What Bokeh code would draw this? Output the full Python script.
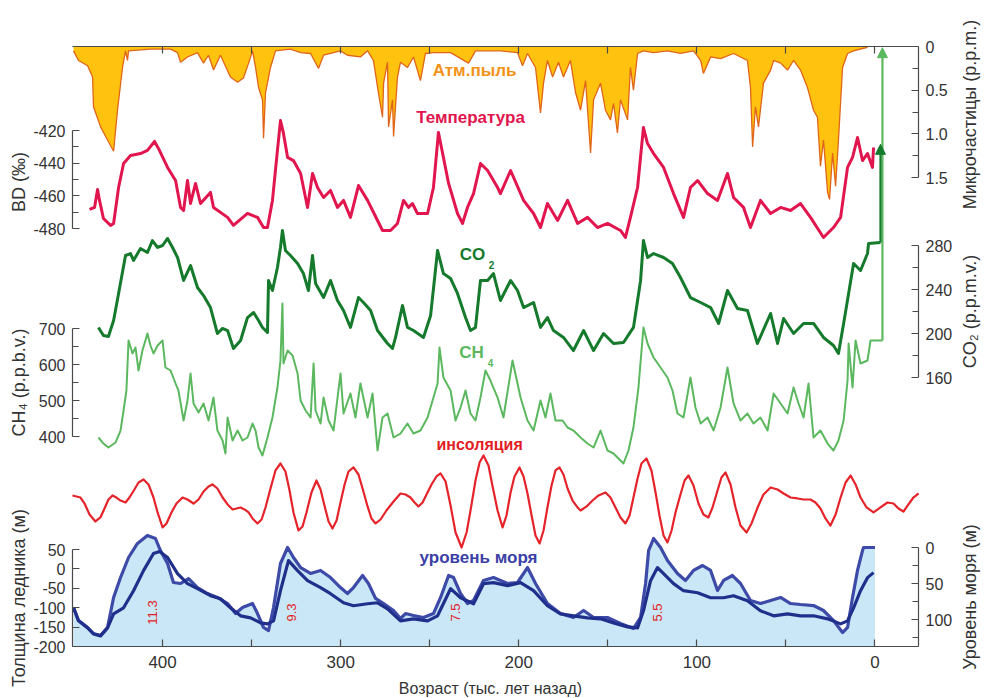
import math
from bokeh.plotting import figure
from bokeh.models import (LinearAxis, FixedTicker, Range1d, Label, Arrow,
                          NormalHead, ColumnDataSource)
from bokeh.embed import file_html
from bokeh.resources import INLINE

# ---------------- data (age in thousand years before present) ----------------
dust_age = [450.0, 447.2, 442.1, 439.3, 438.8, 434.8, 430.9, 427.5, 425.3, 422.5,
            420.8, 419.7, 419.1, 406.8, 395.5, 391.6, 389.9, 386.0, 380.4, 377.0,
            374.2, 371.4, 367.5, 361.9, 357.9, 354.6, 351.7, 349.5, 347.8, 346.1,
            343.9, 343.3, 342.2, 339.4, 336.6, 328.2, 322.5, 316.9, 312.4, 309.6,
            304.0, 300.1, 296.2, 288.9, 284.9, 281.6, 278.8, 276.5, 275.9, 273.7,
            273.1, 270.9, 270.3, 268.1, 266.4, 262.5, 259.1, 255.2, 252.4, 247.9,
            238.3, 228.2, 224.3, 210.3, 200.7, 197.9, 195.1, 190.6, 187.8, 186.1,
            183.9, 181.0, 177.7, 174.9, 171.0, 168.1, 165.3, 162.5, 159.7, 158.0,
            154.1, 151.3, 148.5, 146.8, 144.6, 142.9, 138.9, 137.3, 135.6, 133.3,
            130.0, 124.3, 116.5, 109.2, 101.9, 97.9, 96.3, 92.3, 86.7, 79.4,
            71.6, 69.9, 68.7, 67.1, 65.4, 62.6, 58.6, 56.9, 53.0, 49.1,
            45.7, 41.8, 37.9, 34.5, 32.3, 30.6, 28.9, 26.6, 25.5, 23.8,
            22.1, 20.5, 18.2, 15.4, 12.0, 6.4, 4.2]
dust_ppm = [0.05, 0.16, 0.22, 0.35, 0.69, 0.92, 1.07, 1.20, 0.73, 0.24,
            0.05, 0.16, 0.05, 0.03, 0.03, 0.07, 0.18, 0.12, 0.07, 0.19,
            0.10, 0.27, 0.10, 0.35, 0.41, 0.36, 0.19, 0.05, 0.24, 0.47,
            0.61, 1.05, 0.53, 0.24, 0.05, 0.03, 0.07, 0.08, 0.25, 0.10,
            0.07, 0.05, 0.10, 0.12, 0.05, 0.16, 0.53, 0.81, 0.42, 0.18,
            0.92, 0.61, 1.03, 0.35, 0.18, 0.24, 0.12, 0.39, 0.08, 0.07,
            0.07, 0.19, 0.05, 0.05, 0.07, 0.22, 0.08, 0.24, 0.76, 0.42,
            0.16, 0.35, 0.18, 0.35, 0.16, 0.53, 0.73, 0.39, 1.22, 0.61,
            0.42, 0.73, 0.84, 0.65, 0.99, 0.61, 0.84, 0.24, 0.50, 0.08,
            0.05, 0.07, 0.05, 0.08, 0.05, 0.16, 0.31, 0.12, 0.14, 0.08,
            0.16, 0.47, 1.15, 0.69, 0.92, 0.42, 0.27, 0.16, 0.19, 0.27,
            0.16, 0.27, 0.47, 0.73, 0.81, 1.37, 1.07, 1.67, 1.75, 1.22,
            1.60, 1.07, 0.24, 0.08, 0.05, 0.02, 0.01]

temp_age = [441.0, 438.2, 436.5, 435.4, 433.2, 429.2, 427.5, 424.7, 421.9, 418.0,
            412.4, 408.5, 404.5, 402.3, 397.2, 392.7, 389.9, 388.2, 386.0, 384.3,
            381.5, 378.7, 373.1, 371.4, 363.5, 360.2, 352.3, 346.7, 343.3, 341.1,
            338.3, 335.5, 333.8, 332.1, 329.8, 326.5, 322.5, 318.6, 315.8, 313.0,
            309.6, 305.7, 301.8, 298.4, 294.5, 290.0, 284.9, 279.3, 276.5, 272.0,
            268.1, 264.7, 261.9, 259.7, 256.9, 251.2, 247.9, 245.1, 242.3, 239.4,
            234.4, 231.6, 228.8, 225.4, 221.5, 217.5, 211.9, 210.3, 204.6, 197.3,
            191.7, 187.8, 183.9, 178.2, 172.6, 167.0, 161.4, 155.8, 150.2, 142.9,
            140.1, 137.3, 133.3, 130.0, 127.7, 124.3, 118.7, 113.1, 107.5, 103.6,
            99.6, 94.0, 88.4, 82.8, 79.4, 73.8, 69.9, 64.3, 58.6, 53.0,
            47.4, 41.8, 36.2, 28.9, 23.3, 19.3, 15.4, 12.6, 9.8, 7.0,
            4.2, 1.4, 0.8]
temp_bd = [-468.3, -467.1, -456.1, -462.8, -473.9, -478.1, -476.9, -454.9, -440.2, -435.3,
           -434.1, -432.2, -426.7, -431.0, -442.6, -450.6, -467.1, -469.0, -450.6, -464.7,
           -452.4, -464.7, -457.9, -467.1, -473.2, -478.1, -470.8, -473.2, -479.4, -479.4,
           -462.8, -432.2, -413.9, -421.8, -436.5, -438.4, -446.3, -467.1, -446.3, -454.9,
           -461.0, -456.7, -467.1, -462.8, -473.2, -453.7, -462.8, -475.1, -481.2, -481.2,
           -476.9, -462.8, -467.1, -464.7, -470.8, -470.8, -454.9, -421.2, -436.5, -452.4,
           -470.8, -476.9, -467.1, -458.6, -440.2, -444.5, -454.9, -458.6, -444.5, -462.8,
           -470.8, -479.4, -464.7, -475.1, -462.8, -476.9, -473.2, -479.4, -476.9, -481.2,
           -485.5, -473.2, -454.9, -418.2, -428.0, -434.1, -442.6, -458.6, -473.2, -454.9,
           -450.6, -458.6, -462.8, -446.3, -461.0, -467.1, -479.4, -462.8, -470.8, -467.1,
           -469.0, -464.7, -473.2, -485.5, -479.4, -473.2, -442.6, -436.5, -424.3, -438.4,
           -434.1, -442.6, -430.4]

co2_age = [436.0, 433.2, 430.4, 427.5, 424.7, 420.8, 418.0, 416.3, 412.4, 408.5,
           405.7, 402.8, 400.0, 397.2, 394.4, 391.6, 388.2, 384.3, 380.4, 377.0,
           373.1, 369.2, 366.3, 363.5, 360.2, 356.2, 352.3, 348.9, 346.1, 343.9,
           341.1, 340.5, 338.3, 335.5, 333.8, 332.7, 331.0, 328.2, 324.2, 320.9,
           318.1, 315.8, 314.1, 309.6, 305.7, 301.8, 298.4, 294.5, 290.0, 287.2,
           283.2, 279.3, 273.7, 270.9, 269.2, 265.3, 262.5, 259.1, 253.5, 249.5,
           245.6, 242.3, 238.3, 234.4, 229.9, 227.1, 224.3, 221.5, 217.5, 214.2,
           210.3, 204.6, 200.7, 197.3, 191.7, 187.8, 183.9, 180.5, 174.9, 169.3,
           163.6, 158.0, 152.4, 146.8, 141.2, 135.6, 131.6, 130.0, 127.7, 124.3,
           118.7, 113.7, 109.2, 103.6, 97.9, 92.3, 87.8, 82.8, 77.2, 71.6,
           66.0, 58.6, 54.7, 51.3, 45.7, 40.1, 34.5, 28.9, 23.3, 20.5,
           17.6, 14.8, 12.0, 8.1, 4.2, 3.6, -3.1]
co2_ppmv = [205.5, 198.2, 197.3, 211.8, 236.4, 270.9, 272.7, 266.4, 277.3, 273.6,
            284.5, 278.2, 280.0, 286.4, 278.2, 269.1, 248.2, 261.8, 241.8, 234.5,
            223.6, 200.0, 204.6, 202.7, 186.4, 193.6, 214.5, 219.1, 211.8, 205.5,
            200.9, 248.2, 239.1, 260.0, 278.2, 293.6, 275.5, 270.9, 263.6, 254.5,
            239.1, 270.9, 245.5, 232.7, 248.2, 230.0, 220.9, 205.5, 232.7, 228.2,
            220.9, 202.7, 190.9, 186.4, 196.4, 225.5, 205.5, 202.7, 196.4, 216.4,
            275.5, 254.5, 250.0, 236.4, 214.5, 202.7, 205.5, 248.2, 248.2, 254.5,
            230.0, 248.2, 239.1, 223.6, 228.2, 205.5, 214.5, 202.7, 196.4, 184.5,
            202.7, 184.5, 200.0, 190.9, 191.8, 205.5, 248.2, 284.5, 269.1, 272.7,
            269.1, 263.6, 250.9, 232.7, 228.2, 223.6, 209.1, 239.1, 222.7, 220.9,
            190.9, 218.2, 190.9, 213.6, 200.0, 209.1, 209.1, 196.4, 189.1, 181.8,
            209.1, 236.4, 263.6, 257.3, 272.7, 281.8, 282.7]
co2_recent = 372.0

ch4_age = [436.0, 433.2, 430.4, 426.4, 423.6, 421.9, 420.3, 419.1, 416.9, 415.2,
           413.5, 411.3, 408.5, 406.8, 405.1, 402.8, 400.0, 398.4, 395.5, 392.7,
           391.1, 388.2, 386.0, 384.3, 382.6, 379.8, 377.0, 374.2, 371.4, 369.2,
           366.3, 364.7, 363.5, 360.7, 357.9, 355.1, 352.3, 349.5, 347.8, 346.1,
           343.9, 341.1, 338.3, 335.5, 333.8, 332.7, 332.1, 329.8, 327.0, 324.2,
           322.5, 319.7, 316.9, 315.2, 314.1, 311.3, 309.6, 306.8, 304.0, 300.1,
           298.4, 294.5, 291.7, 288.9, 284.9, 282.1, 279.3, 276.5, 273.7, 270.3,
           266.4, 262.5, 259.1, 255.2, 251.2, 248.4, 245.6, 244.5, 242.3, 238.3,
           235.5, 232.7, 229.9, 227.1, 224.3, 221.5, 218.7, 215.9, 211.9, 208.6,
           203.5, 199.0, 195.1, 191.7, 187.8, 185.0, 182.2, 179.4, 175.4, 172.6,
           169.3, 165.3, 161.4, 158.0, 154.1, 150.2, 146.8, 142.9, 141.2, 138.4,
           135.6, 132.8, 130.0, 127.7, 124.3, 120.4, 116.5, 113.7, 110.9, 107.5,
           103.6, 100.8, 97.9, 94.0, 90.6, 86.7, 82.8, 79.4, 75.5, 71.6,
           68.2, 64.3, 60.3, 56.9, 53.0, 49.1, 45.7, 42.9, 40.1, 37.3,
           34.5, 30.6, 26.6, 23.3, 20.5, 17.6, 15.4, 14.8, 12.6, 10.9,
           8.1, 4.2, 2.5, -4.2]
ch4_ppbv = [397.2, 380.5, 369.4, 383.3, 416.6, 472.2, 527.8, 666.7, 630.6, 647.2,
            583.3, 638.9, 686.1, 652.8, 630.6, 652.8, 666.7, 591.7, 583.3, 547.2,
            527.8, 444.4, 500.0, 575.0, 491.7, 466.6, 491.7, 444.4, 508.3, 416.6,
            388.9, 352.8, 452.8, 388.9, 416.6, 388.9, 397.2, 436.1, 416.6, 369.4,
            347.2, 397.2, 452.8, 536.1, 611.1, 769.5, 602.8, 638.9, 625.0, 575.0,
            500.0, 472.2, 452.8, 602.8, 472.2, 436.1, 508.3, 444.4, 416.6, 575.0,
            463.9, 519.4, 452.8, 547.2, 452.8, 519.4, 361.1, 452.8, 463.9, 397.2,
            408.3, 436.1, 408.3, 416.6, 452.8, 500.0, 547.2, 647.2, 563.9, 527.8,
            444.4, 480.5, 527.8, 463.9, 444.4, 508.3, 583.3, 555.5, 508.3, 452.8,
            611.1, 508.3, 444.4, 416.6, 500.0, 452.8, 519.4, 444.4, 444.4, 425.0,
            416.6, 397.2, 380.5, 369.4, 416.6, 361.1, 352.8, 333.3, 325.0, 361.1,
            425.0, 536.1, 702.8, 658.3, 619.4, 591.7, 563.9, 527.8, 463.9, 452.8,
            563.9, 480.5, 436.1, 452.8, 416.6, 480.5, 591.7, 491.7, 444.4, 463.9,
            436.1, 452.8, 416.6, 519.4, 491.7, 463.9, 536.1, 491.7, 452.8, 547.2,
            397.2, 416.6, 380.5, 361.1, 388.9, 444.4, 555.5, 658.3, 536.1, 666.7,
            602.8, 611.1, 666.7, 666.7]
ch4_recent = 1480.0

insol_age = [450.6, 446.1, 443.8, 441.0, 437.7, 434.9, 432.6, 430.4, 428.1, 425.9,
             423.6, 420.8, 418.6, 415.8, 413.5, 410.7, 407.9, 405.1, 402.8, 400.0,
             397.8, 395.0, 392.2, 388.8, 386.0, 382.6, 379.8, 377.0, 374.2, 372.0,
             369.2, 366.3, 363.5, 360.7, 358.5, 356.2, 354.0, 351.7, 349.5, 346.7,
             344.4, 342.2, 339.4, 336.6, 333.8, 331.0, 328.7, 326.5, 323.7, 321.4,
             319.2, 316.4, 313.6, 311.3, 309.1, 306.8, 304.6, 302.3, 300.1, 297.8,
             295.6, 292.8, 290.0, 287.7, 284.9, 282.7, 280.4, 277.6, 274.3, 270.3,
             266.4, 263.6, 260.8, 258.5, 256.3, 254.0, 251.8, 249.0, 246.2, 243.9,
             241.1, 238.3, 235.5, 232.1, 229.3, 227.1, 224.3, 222.0, 219.8, 217.0,
             214.7, 211.9, 209.1, 206.9, 204.6, 202.4, 199.6, 197.3, 195.1, 192.8,
             190.6, 188.3, 186.1, 183.9, 181.6, 179.4, 177.1, 174.9, 172.6, 169.8,
             167.0, 165.3, 161.9, 158.6, 155.2, 151.3, 148.5, 145.7, 142.9, 140.1,
             137.8, 135.6, 133.3, 131.1, 128.3, 125.5, 123.2, 121.0, 118.7, 116.5,
             114.2, 112.0, 109.2, 106.9, 104.7, 101.9, 99.1, 96.3, 93.5, 91.2,
             88.4, 86.2, 83.9, 81.1, 78.3, 75.5, 72.1, 69.3, 65.9, 62.6,
             58.6, 54.7, 51.3, 47.4, 43.5, 40.1, 36.2, 33.4, 30.6, 27.8,
             25.0, 22.1, 19.3, 16.5, 13.7, 10.9, 8.1, 4.7, 0.8, -3.1,
             -7.0, -10.4, -13.2, -16.0, -18.8, -21.6, -24.5]
insol_wm2 = [505.8, 503.2, 495.6, 481.7, 472.9, 478.0, 489.3, 500.7, 505.8, 503.2,
             499.4, 496.9, 503.2, 513.3, 522.2, 526.0, 519.7, 503.2, 484.3, 465.3,
             470.4, 484.3, 495.6, 503.2, 500.7, 495.6, 500.7, 510.8, 517.1, 519.7,
             514.6, 503.2, 494.4, 488.1, 489.3, 490.6, 488.1, 484.3, 476.7, 470.4,
             475.4, 490.6, 514.6, 537.4, 546.2, 536.1, 512.1, 484.3, 461.5, 466.6,
             484.3, 509.6, 524.7, 513.3, 493.1, 472.9, 464.0, 474.2, 496.9, 519.7,
             536.1, 541.2, 532.3, 514.6, 491.9, 476.7, 470.4, 475.4, 486.8, 498.2,
             508.3, 507.0, 503.2, 496.9, 491.9, 496.9, 507.0, 519.7, 529.8, 533.6,
             523.5, 493.1, 459.0, 440.0, 459.0, 486.8, 524.7, 547.5, 556.3, 543.7,
             517.1, 486.8, 465.3, 480.5, 509.6, 529.8, 541.2, 529.8, 508.3, 480.5,
             455.2, 445.1, 461.5, 490.6, 518.4, 537.4, 541.2, 532.3, 514.6, 499.4,
             490.6, 486.8, 491.9, 499.4, 505.8, 509.6, 503.2, 490.6, 478.0, 470.4,
             480.5, 503.2, 527.2, 546.2, 552.5, 537.4, 509.6, 480.5, 455.2, 446.4,
             461.5, 484.3, 507.0, 524.7, 531.0, 518.4, 495.6, 481.7, 478.0, 490.6,
             512.1, 528.5, 534.8, 519.7, 490.6, 467.8, 459.0, 470.4, 490.6, 507.0,
             515.9, 513.3, 508.3, 503.2, 502.0, 500.7, 500.7, 496.9, 489.3, 476.7,
             467.8, 481.7, 503.2, 522.2, 531.0, 519.7, 503.2, 490.6, 484.3, 490.6,
             496.9, 495.6, 489.3, 485.5, 494.4, 503.2, 508.3]

sea_age = [450.0, 447.2, 442.1, 438.8, 434.8, 430.9, 427.5, 423.6, 419.1, 414.1,
           408.5, 404.0, 401.2, 397.2, 393.9, 389.9, 385.4, 380.4, 374.8, 369.2,
           363.5, 359.0, 355.1, 349.5, 346.7, 343.3, 340.5, 337.7, 333.8, 329.8,
           326.5, 322.5, 316.9, 311.3, 305.7, 300.1, 296.2, 292.8, 287.7, 284.4,
           280.4, 275.9, 270.3, 266.4, 263.6, 259.1, 253.5, 247.9, 243.9, 239.4,
           236.6, 232.7, 228.8, 225.4, 219.8, 214.2, 206.3, 200.7, 195.1, 190.6,
           183.9, 176.6, 169.3, 163.6, 158.0, 150.2, 142.9, 135.6, 131.6, 128.8,
           127.1, 124.3, 120.4, 116.5, 110.9, 106.4, 101.9, 96.8, 92.3, 88.4,
           85.0, 80.0, 75.5, 69.9, 64.3, 58.6, 53.0, 47.4, 41.8, 34.5,
           28.9, 23.3, 18.2, 15.4, 12.6, 9.8, 7.0, 6.4, 0.0]
sea_m = [83.3, 101.4, 111.1, 119.5, 122.2, 111.1, 69.4, 41.7, 13.9, -5.6,
         -16.7, -12.5, 4.2, 22.2, 48.6, 50.0, 43.1, 55.6, 63.9, 69.4,
         77.8, 91.7, 83.3, 77.8, 91.7, 111.1, 115.3, 83.3, 22.2, 0.0,
         13.9, 27.8, 36.1, 31.9, 41.7, 55.6, 63.9, 55.6, 38.9, 50.0,
         70.8, 77.8, 87.5, 98.6, 91.7, 94.4, 97.2, 91.7, 69.4, 38.9,
         41.7, 63.9, 77.8, 73.6, 45.8, 41.7, 50.0, 48.6, 27.8, 50.0,
         77.8, 91.7, 97.2, 87.5, 97.2, 97.2, 105.6, 112.5, 97.2, 50.0,
         4.2, -12.5, 0.0, 18.1, 36.1, 45.8, 31.9, 25.0, 31.9, 59.7,
         45.8, 38.9, 50.0, 73.6, 77.8, 73.6, 69.4, 77.8, 79.2, 80.6,
         87.5, 101.4, 118.1, 111.1, 69.4, 31.9, 4.2, 0.0, 0.0]

ice_age = [450.0, 447.2, 442.1, 438.8, 434.8, 430.9, 427.5, 421.9, 416.3, 410.7,
           405.1, 401.7, 397.2, 391.6, 386.0, 380.4, 373.1, 367.5, 361.9, 356.2,
           350.6, 345.0, 341.1, 337.7, 333.8, 329.3, 324.2, 318.6, 311.3, 305.7,
           298.4, 292.8, 284.9, 279.3, 273.7, 266.4, 259.1, 251.2, 245.6, 238.3,
           232.7, 225.4, 219.8, 214.2, 206.3, 199.0, 191.7, 183.9, 176.6, 169.3,
           161.4, 154.1, 146.8, 138.9, 133.3, 130.0, 126.0, 122.1, 118.7, 113.1,
           107.5, 99.6, 92.3, 85.0, 79.4, 71.6, 64.3, 56.9, 49.1, 41.8,
           34.5, 26.6, 19.3, 15.4, 12.0, 8.1, 4.2, 0.8]
ice_m = [-100.2, -133.9, -152.0, -167.6, -172.7, -152.0, -115.8, -100.2, -56.2, -4.4,
         39.6, 44.8, 29.3, -12.2, -38.1, -51.0, -69.1, -76.9, -100.2, -120.9,
         -126.1, -139.1, -141.7, -133.9, -56.2, 21.5, -4.4, -30.3, -48.4, -64.0,
         -87.3, -95.0, -89.9, -87.3, -102.8, -133.9, -128.7, -133.9, -120.9, -51.0,
         -74.3, -89.9, -38.1, -35.5, -43.2, -35.5, -56.2, -95.0, -115.8, -120.9,
         -126.1, -128.7, -139.1, -149.4, -152.0, -108.0, -30.3, 3.4, -12.2, -38.1,
         -56.2, -61.4, -74.3, -74.3, -69.1, -82.1, -108.0, -120.9, -115.8, -120.9,
         -120.9, -128.7, -141.7, -133.9, -100.2, -56.2, -22.5, -9.6]

stage_labels = ["11.3", "9.3", "7.5", "5.5"]
stage_ages = [405.6, 327.6, 235.5, 122.1]

age_major = [400, 300, 200, 100, 0]
age_minor = [350, 250, 150, 50]

# ---------------- layout (the frame spans the whole canvas) ----------------
W, H = 984, 698
FONT = "Liberation Sans"
AX = "#4a4a4a"
TXT = "#333333"
PX_PER_KY = 1.781
AGE_AT_PX0 = 491.0


def age_at(px):
    return AGE_AT_PX0 - px / PX_PER_KY


def band(v_a, y_a, v_b, y_b):
    """Range whose value v_a sits y_a px below the top and v_b y_b px below."""
    f_a, f_b = (H - y_a) / H, (H - y_b) / H
    k = (v_b - v_a) / (f_b - f_a)
    start = v_a - f_a * k
    return Range1d(start=start, end=start + k)


def value_at(rng, y):
    return rng.start + (H - y) / H * (rng.end - rng.start)


LEFT_X, RIGHT_X = age_at(72), age_at(918)
BOTTOM_Y, TOP_Y = H - 646, H - 46

p = figure(width=W, height=H, x_range=Range1d(age_at(0), age_at(W)), y_range=Range1d(0, H),
           output_backend="svg", toolbar_location=None,
           x_axis_location=None, y_axis_location=None,
           min_border_left=0, min_border_right=0, min_border_top=0, min_border_bottom=0)
p.outline_line_color = None
p.grid.visible = False
p.background_fill_color = "white"
p.border_fill_color = "white"

rng = {
    "dust": band(0, 46, 1.5, 177),
    "bd": band(-420, 130, -480, 228),
    "co2": band(280, 245, 160, 377),
    "ch4": band(700, 328, 400, 436),
    "insol": band(550, 460, 440, 547),
    "ice": band(50, 549, -200, 646),
    "sea": band(0, 547, 100, 619),
}
p.extra_y_ranges = rng
sea_floor = value_at(rng["sea"], 646)


def style_axis(ax, tick_in=7, minor_in=6, size="16px", standoff=7):
    ax.axis_line_color = AX
    ax.axis_line_width = 1.2
    ax.major_tick_line_color = AX
    ax.minor_tick_line_color = AX
    ax.major_tick_line_width = 1.2
    ax.minor_tick_line_width = 1.2
    ax.major_tick_in = tick_in
    ax.major_tick_out = 0
    ax.minor_tick_in = minor_in
    ax.minor_tick_out = 0
    ax.major_label_text_font = FONT
    ax.major_label_text_font_size = size
    ax.major_label_text_color = TXT
    ax.major_label_standoff = standoff


def text(x, y, s, color=TXT, size="16px", bold=False, angle=0.0, align="center",
         baseline="middle", rname="default", dx=0, dy=0):
    p.add_layout(Label(x=x, y=y, text=s, text_color=color, text_font=FONT,
                       text_font_size=size, text_font_style="bold" if bold else "normal",
                       text_align=align, text_baseline=baseline, angle=angle,
                       y_range_name=rname, x_offset=dx, y_offset=dy))


def y_axis(side, rname, bounds, ticks, minor, title, overrides=None):
    loc = LEFT_X if side == "left" else RIGHT_X
    ax = LinearAxis(y_range_name=rname, bounds=bounds,
                    ticker=FixedTicker(ticks=ticks, minor_ticks=minor),
                    fixed_location=loc)
    style_axis(ax)
    labels = {t: str(t) for t in ticks}          # plain hyphen for negatives
    if overrides:
        labels.update(overrides)
    ax.major_label_overrides = labels
    p.add_layout(ax, side)
    mid = (bounds[0] + bounds[1]) / 2
    text(loc, mid, title, size="18px", angle=math.pi / 2, rname=rname,
         dx=-54 if side == "left" else 51)


# ---------------- glyphs ----------------
sea_src = ColumnDataSource(dict(age=sea_age, m=sea_m, base=[sea_floor] * len(sea_age)))
p.varea(x="age", y1="m", y2="base", source=sea_src, y_range_name="sea",
        fill_color="#c9e7f6", fill_alpha=1.0)

dust_src = ColumnDataSource(dict(age=dust_age, v=dust_ppm, zero=[0.0] * len(dust_age)))
p.varea(x="age", y1="zero", y2="v", source=dust_src, y_range_name="dust",
        fill_color="#ffc30f")
p.line(x="age", y="v", source=dust_src, y_range_name="dust",
       line_color="#e0651a", line_width=1.3)

p.line(temp_age, temp_bd, y_range_name="bd", line_color="#e2164f", line_width=3.0,
       line_join="round")
p.line(co2_age, co2_ppmv, y_range_name="co2", line_color="#157a2c", line_width=3.0,
       line_join="round")
p.line(ch4_age, ch4_ppbv, y_range_name="ch4", line_color="#5cb85f", line_width=2.0,
       line_join="round")

p.add_layout(Arrow(end=NormalHead(size=10, fill_color="#5cb85f", line_color="#5cb85f"),
                   x_start=ch4_age[-1], y_start=ch4_ppbv[-1],
                   x_end=ch4_age[-1], y_end=ch4_recent, y_range_name="ch4",
                   line_color="#5cb85f", line_width=2.2))
p.add_layout(Arrow(end=NormalHead(size=10, fill_color="#157a2c", line_color="#157a2c"),
                   x_start=co2_age[-1], y_start=co2_ppmv[-1],
                   x_end=co2_age[-1], y_end=co2_recent, y_range_name="co2",
                   line_color="#157a2c", line_width=2.2))

p.line(insol_age, insol_wm2, y_range_name="insol", line_color="#e5232a", line_width=2.2,
       line_join="round")

p.line(sea_age, sea_m, y_range_name="sea", line_color="#3d4aa8", line_width=3.2,
       line_join="round")
p.line(ice_age, ice_m, y_range_name="ice", line_color="#212f8c", line_width=3.2,
       line_join="round")

# ---------------- axes ----------------
bottom = LinearAxis(ticker=FixedTicker(ticks=age_major, minor_ticks=age_minor),
                    fixed_location=BOTTOM_Y, bounds=(RIGHT_X, LEFT_X))
style_axis(bottom, tick_in=7, minor_in=7, size="17px", standoff=9)
p.add_layout(bottom, "below")
text(age_at(490), H - 688, "Возраст (тыс. лет назад)", size="16px")

top = LinearAxis(ticker=FixedTicker(ticks=age_major + age_minor),
                 fixed_location=TOP_Y, bounds=(RIGHT_X, LEFT_X))
style_axis(top, tick_in=7, minor_in=7)
top.major_label_text_color = None
p.add_layout(top, "above")

y_axis("left", "bd", (-480, -420), [-480, -460, -440, -420], [-470, -450, -430],
       "BD  (‰)")
y_axis("left", "ch4", (400, 700), [400, 500, 600, 700], [450, 550, 650],
       "CH₄ (p.p.b.v.)")
y_axis("left", "ice", (-200, 50), [-200, -150, -100, -50, 0, 50], [],
       "Толщина ледника (м)")
y_axis("right", "dust", (0, 1.5), [0, 0.5, 1.0, 1.5], [0.25, 0.75, 1.25],
       "Микрочастицы  (p.p.m.)", {0: "0", 0.5: "0.5", 1.0: "1.0", 1.5: "1.5"})
y_axis("right", "co2", (160, 280), [160, 200, 240, 280], [180, 220, 260],
       "CO₂ (p.p.m.v.)")
y_axis("right", "sea", (0, sea_floor), [0, 50, 100], [25, 75, 125],
       "Уровень моря (м)")

# ---------------- series names ----------------
text(224.8, H - 70, "Атм.пыль", "#f39219", size="17px", bold=True)
text(227.1, H - 117, "Температура", "#e2164f", size="17px", bold=True)
text(226.0, H - 254, "CO", "#157a2c", size="17px", bold=True)
text(215.3, H - 264, "2", "#157a2c", size="10px", bold=True)
text(226.5, H - 352, "CH", "#5cb85f", size="17px", bold=True)
text(215.9, H - 362, "4", "#5cb85f", size="10px", bold=True)
text(222.0, H - 444, "инсоляция", "#e31b23", size="16px", bold=True)
text(222.6, H - 557, "уровень моря", "#3b40a6", size="17px", bold=True)
for lab, age in zip(stage_labels, stage_ages):
    text(age, H - 612, lab, "#e31b23", size="13px", angle=math.pi / 2)

open("out.html", "w").write(file_html(p, INLINE, "Vostok"))
